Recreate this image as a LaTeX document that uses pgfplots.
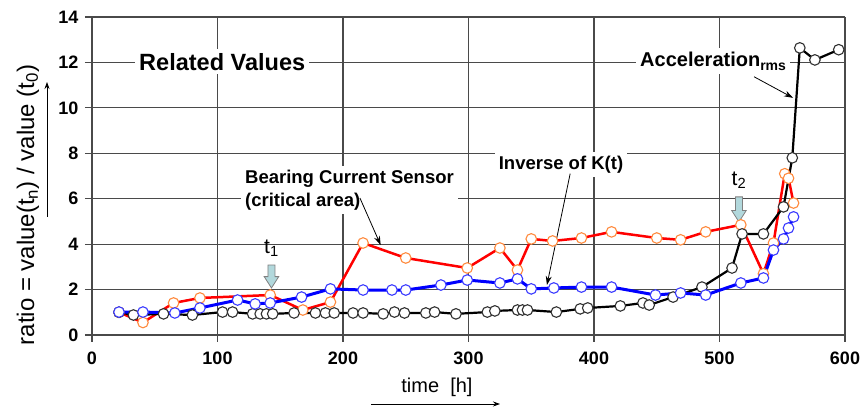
\documentclass[border=0pt]{standalone}
\usepackage{fontspec}
\setmainfont{Liberation Sans}
\usepackage{pgfplots}
\pgfplotsset{compat=1.18}
\usetikzlibrary{arrows.meta}
\definecolor{gridc}{HTML}{4A4A4A}
\definecolor{bcs}{HTML}{FF0000}
\definecolor{bcsmark}{HTML}{FF8A3D}
\definecolor{invk}{HTML}{0000FF}
\definecolor{invkmark}{HTML}{3A3AFF}
\definecolor{accmark}{HTML}{303030}
\definecolor{tarrow}{HTML}{B2D8DC}

\pgfplotstableread{
x y
21.5 1.00
40.6 0.55
65 1.41
86 1.63
142 1.76
168 1.10
190 1.45
216 4.05
250 3.39
299 2.95
325 3.83
339 2.86
350 4.23
367 4.14
390 4.27
414 4.54
450 4.27
469 4.19
489 4.54
517 4.85
535 2.70
543 4.05
552 7.10
555 6.90
559 5.81
}\bearing

\pgfplotstableread{
x y
21.5 1.00
33 0.88
57 0.93
80 0.88
104 1.01
112 1.01
128 0.93
134 0.93
139 0.93
144 0.93
161 0.97
178 0.97
186 0.97
193 0.97
208 0.97
216 0.97
232 0.93
241 1.01
249 0.97
266 0.97
273 1.01
290 0.93
315 1.01
321 1.06
339 1.10
343 1.10
347 1.10
370 1.01
389 1.15
395 1.19
421 1.28
439 1.41
444 1.32
463 1.67
486 2.11
510 2.95
518 4.45
535 4.45
551 5.64
558 7.80
564 12.64
576 12.11
595 12.56
}\accel

\pgfplotstableread{
x y
21.5 1.01
40.6 1.01
66 0.97
86 1.19
116 1.54
130 1.37
142 1.41
167 1.67
190 2.03
216 1.98
239 1.98
250 1.98
278 2.20
299 2.42
325 2.29
339 2.47
350 2.03
368 2.07
390 2.11
414 2.11
449 1.76
469 1.85
489 1.76
517 2.29
535 2.51
543 3.74
551 4.23
555 4.71
559 5.20
}\invk

\newcommand{\tnote}[4]{% x, top y, tip y, label
  \draw[gridc!70,fill=tarrow,line width=0.8pt]
    (axis cs:#1-2.8,#2) -- (axis cs:#1+2.8,#2) -- (axis cs:#1+2.8,#3+0.5)
    -- (axis cs:#1+5.8,#3+0.5) -- (axis cs:#1,#3) -- (axis cs:#1-5.8,#3+0.5)
    -- (axis cs:#1-2.8,#3+0.5) -- cycle;
  \node[anchor=base,font=\fontsize{21}{21}\selectfont,inner sep=0pt]
    at (axis cs:#1,#2+0.5) {t\textsubscript{#4}};}

\begin{document}
\begin{tikzpicture}[x=1pt,y=1pt]
\useasboundingbox (0,0) rectangle (864,409);
\begin{axis}[at={(92pt,74pt)},anchor=south west,width=753pt,height=318pt,scale only axis,
 xmin=0,xmax=600,ymin=0,ymax=14,xtick={0,100,...,600},ytick={0,2,...,14},
 axis lines*=left,axis line style={-,gridc,line width=1.2pt},
 grid=major,grid style={gridc,line width=1.1pt},
 tick align=outside,major tick length=7pt,tick style={gridc,line width=1.1pt},
 /pgf/number format/assume math mode=true,
 xticklabel style={font=\fontsize{18}{18}\selectfont\bfseries,yshift=-6pt},
 yticklabel style={font=\fontsize{18}{18}\selectfont\bfseries,xshift=-3pt},
 clip=false]
\addplot[bcs,line width=2.5pt,mark=*,mark size=5.3pt,
  mark options={draw=bcsmark,fill=white,line width=1.1pt}] table {\bearing};
\addplot[black,line width=2.2pt,mark=*,mark size=5.3pt,
  mark options={draw=accmark,fill=white,line width=1.1pt}] table {\accel};
\addplot[invk,line width=3pt,mark=*,mark size=5.3pt,
  mark options={draw=invkmark,fill=white,line width=1.1pt}] table {\invk};

\node[anchor=base west,fill=white,inner sep=4pt,font=\fontsize{23.5}{23.5}\selectfont\bfseries]
  at (axis cs:34.3,11.66) {Related Values};
\node[anchor=base west,fill=white,inner sep=4pt,font=\fontsize{20}{20}\selectfont\bfseries]
  at (axis cs:433.5,11.8) {Acceleration\textsubscript{rms}};
\node[anchor=north west,fill=white,inner sep=4pt,align=left,font=\fontsize{18.5}{23}\selectfont\bfseries]
  at (axis cs:118.7,7.46) {Bearing Current Sensor\\(critical area)};
\node[anchor=base,fill=white,inner sep=4pt,font=\fontsize{18.5}{18.5}\selectfont\bfseries]
  at (axis cs:373.7,7.29) {Inverse of K(t)};

\draw[-{Stealth[length=9pt,width=6pt]},line width=0.8pt] (axis cs:527.5,11.37) -- (axis cs:558.6,10.44);
\draw[-{Stealth[length=9pt,width=6pt]},line width=0.8pt] (axis cs:213.5,6.03) -- (axis cs:230,3.96);
\draw[-{Stealth[length=9pt,width=6pt]},line width=0.8pt] (axis cs:381,7.1) -- (axis cs:362.5,2.2);

\tnote{143}{3.08}{2.07}{1}
\tnote{515.5}{6.08}{4.98}{2}
\end{axis}
\node[rotate=90,font=\fontsize{24}{24}\selectfont] at (28,204) {ratio = value(t\textsubscript{n}) / value (t\textsubscript{0})};
\draw[-{Stealth[length=7pt,width=5pt]},line width=0.8pt] (47,192) -- (47,327);
\node[font=\fontsize{20}{20}\selectfont] at (437,22) {time\ \ [h]};
\draw[-{Stealth[length=7pt,width=5pt]},line width=0.8pt] (371,5) -- (500,5);
\end{tikzpicture}
\end{document}
